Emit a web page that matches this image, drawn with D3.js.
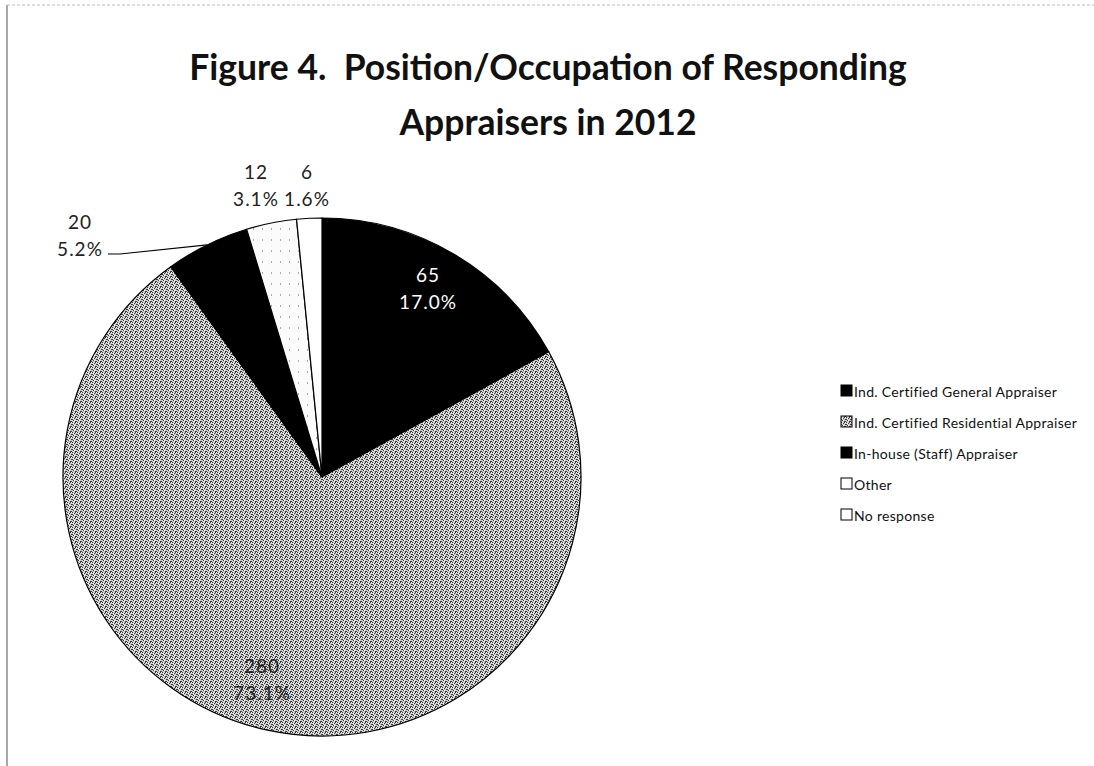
<!DOCTYPE html>
<html>
<head>
<meta charset="utf-8">
<script src="https://cdn.jsdelivr.net/npm/d3@7"></script>
<style>
  body { margin: 0; background: #fff; }
  text { font-family: Lato, "Open Sans", sans-serif; white-space: pre; }
</style>
</head>
<body>
<div id="chart"></div>
<script>
// data
var categories = ["Ind. Certified General Appraiser", "Ind. Certified Residential Appraiser",
                  "In-house (Staff) Appraiser", "Other", "No response"];
var counts = [65, 280, 20, 12, 6];
var percents = ["17.0%", "73.1%", "5.2%", "3.1%", "1.6%"];
var titleLines = ["Figure 4.  Position/Occupation of Responding", "Appraisers in 2012"];

var W = 1094, H = 766;
var cx = 322, cy = 477, R = 259;

var svg = d3.select("#chart").append("svg")
    .attr("width", W)
    .attr("height", H);

var defs = svg.append("defs");
// speckled halftone for the big slice
var pat = defs.append("pattern")
    .attr("id", "speckle")
    .attr("width", 5).attr("height", 5)
    .attr("patternUnits", "userSpaceOnUse");
pat.append("rect").attr("width", 5).attr("height", 5).attr("fill", "#cfcfcf");
[[0,0],[2,1],[4,2],[1,3],[3,4],[3,0],[0,2],[4,4]].forEach(function(p) {
    pat.append("rect").attr("x", p[0]).attr("y", p[1]).attr("width", 1).attr("height", 1).attr("fill", "#3a3a3a");
});
[[1,1],[2,3],[4,0]].forEach(function(p) {
    pat.append("rect").attr("x", p[0]).attr("y", p[1]).attr("width", 1).attr("height", 1).attr("fill", "#fff");
});
// faint dots for "Other"
var pat2 = defs.append("pattern")
    .attr("id", "lightdots")
    .attr("width", 9).attr("height", 11)
    .attr("patternUnits", "userSpaceOnUse");
pat2.append("rect").attr("width", 9).attr("height", 11).attr("fill", "#fbfbfb");
pat2.append("rect").attr("x", 3).attr("y", 4).attr("width", 1).attr("height", 2).attr("fill", "#aaa");

var fills = ["#000", "url(#speckle)", "#000", "url(#lightdots)", "#fff"];

// chart frame (left and top edges visible in the scan)
svg.append("line").attr("x1", 7).attr("x2", 7).attr("y1", 5).attr("y2", H)
    .attr("stroke", "#8a8a8a").attr("stroke-width", 1.5);
svg.append("line").attr("x1", 7).attr("x2", W).attr("y1", 5).attr("y2", 5)
    .attr("stroke", "#bbb").attr("stroke-width", 1).attr("stroke-dasharray", "3,2");

// title
svg.append("g").selectAll("text")
    .data(titleLines)
    .enter().append("text")
    .attr("x", 548)
    .attr("y", function(d, i) { return 80 + i * 55; })
    .attr("text-anchor", "middle")
    .attr("font-size", 35.5)
    .attr("font-weight", "bold")
    .attr("fill", "#111")
    .text(function(d) { return d; });

var pie = d3.pie().sort(null).value(function(d) { return d; });
var arcs = pie(counts);
var arc = d3.arc().innerRadius(0).outerRadius(R);

var g = svg.append("g").attr("transform", "translate(" + cx + "," + cy + ")");

g.selectAll("path")
    .data(arcs)
    .enter().append("path")
    .attr("d", arc)
    .attr("fill", function(d, i) { return fills[i]; })
    .attr("stroke", "#000")
    .attr("stroke-width", 1.2);

// data labels (baseline of the count line)
var labelPos = [
    { x: 428, y: 282, color: "#fff" },
    { x: 262, y: 673, color: "#222" },
    { x: 80,  y: 229, color: "#222" },
    { x: 256, y: 179, color: "#222" },
    { x: 307, y: 179, color: "#222" }
];

var lab = svg.append("g").selectAll("g")
    .data(arcs)
    .enter().append("g")
    .attr("font-size", 19)
    .attr("letter-spacing", 1)
    .attr("text-anchor", "middle")
    .attr("fill", function(d, i) { return labelPos[i].color; });
lab.append("text")
    .attr("x", function(d, i) { return labelPos[i].x; })
    .attr("y", function(d, i) { return labelPos[i].y; })
    .text(function(d, i) { return counts[i]; });
lab.append("text")
    .attr("x", function(d, i) { return labelPos[i].x; })
    .attr("y", function(d, i) { return labelPos[i].y + 27; })
    .text(function(d, i) { return percents[i]; });

// leader line for the 20 / 5.2% label
var mid = (arcs[2].startAngle + arcs[2].endAngle) / 2;
var edge = [cx + Math.sin(mid) * R, cy - Math.cos(mid) * R];
svg.append("polyline")
    .attr("points", [[108, 254], [120, 254], edge].map(function(p) { return p.join(","); }).join(" "))
    .attr("fill", "none")
    .attr("stroke", "#000")
    .attr("stroke-width", 1.2);

// legend
var leg = svg.append("g").attr("transform", "translate(841,391)");
var li = leg.selectAll("g")
    .data(categories)
    .enter().append("g")
    .attr("transform", function(d, i) { return "translate(0," + i * 31 + ")"; });
li.append("rect")
    .attr("x", 0).attr("y", -6)
    .attr("width", 11).attr("height", 11)
    .attr("fill", function(d, i) { return i == 3 ? "#fff" : fills[i]; })
    .attr("stroke", "#000")
    .attr("stroke-width", 1);
li.append("text")
    .attr("x", 13)
    .attr("y", 6)
    .attr("font-size", 14)
    .attr("letter-spacing", 0.3)
    .attr("fill", "#111")
    .text(function(d) { return d; });
</script>
</body>
</html>
